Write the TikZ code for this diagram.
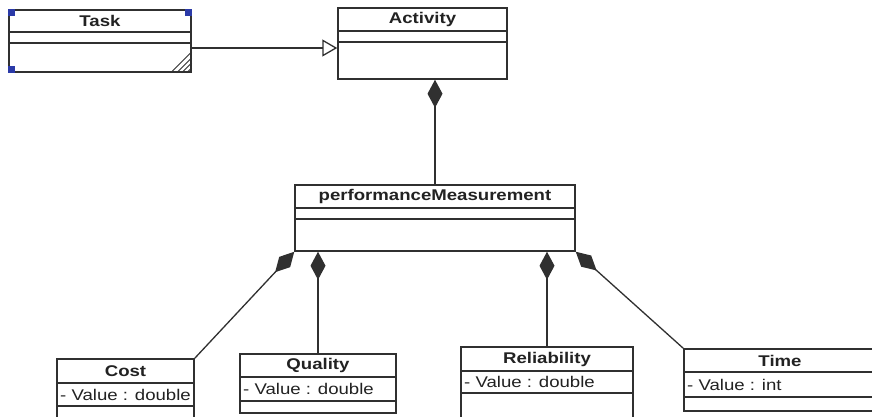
\documentclass[tikz,border=0pt]{standalone}
\usepackage{fontspec}
\setmainfont[FakeStretch=1.2]{Liberation Sans}
\usepackage{tikz}
\usetikzlibrary{arrows.meta,shapes,fit}
\definecolor{linecol}{HTML}{303030}
\definecolor{textcol}{HTML}{222222}
\definecolor{handlecol}{HTML}{2B3AA8}
\tikzstyle{class box}=[draw=linecol,line width=1.5pt,inner sep=0pt]
\tikzstyle{class title}=[text=textcol,inner sep=0pt,font=\fontsize{15.5}{18}\selectfont\bfseries]
\tikzstyle{attribute}=[text=textcol,anchor=west,inner xsep=3pt,inner ysep=0pt,font=\fontsize{15.5}{18}\selectfont]
\tikzstyle{divider}=[draw=linecol,line width=1.5pt]
\tikzstyle{handle}=[fill=handlecol,minimum size=6.5pt,inner sep=0pt]
\tikzstyle{grip}=[draw=linecol,line width=1pt]
\tikzstyle{composition}=[draw=linecol,line width=1.3pt,{Diamond[length=28pt,width=15pt]}-]
\tikzstyle{generalization}=[draw=linecol,line width=1.3pt,-{Triangle[open,length=15pt,width=17pt]}]

\begin{document}
\begin{tikzpicture}[x=1pt,y=-1pt]
    % Frame of the picture
    \useasboundingbox[fill=white] (0,0) rectangle (872,416);
    \clip (0,0) rectangle (872,416);

    % First we draw the classes
    \foreach \name/\lft/\tp/\rt/\bt/\da/\db/\heading/\attr in {
        task/9/10/191/72/32/43/Task/{},
        activity/338/8/507/79/31/42/Activity/{},
        pm/295/185/575/251/208/219/performanceMeasurement/{},
        cost/57/359/194/440/383/406/Cost/{- Value : double},
        quality/240/354/396/413/377/401/Quality/{- Value : double},
        reliability/461/347/633/440/371/393/Reliability/{- Value : double},
        time/684/349/876/411/372/397/Time/{- Value : int}}
    {
        \node[class box, fit={(\lft,\tp) (\rt,\bt)}] (\name) {};
        \node[class title] (\name-title) at ({(\lft+\rt)/2},{(\tp+\da)/2}) {\heading};
        \node[attribute] (\name-attr) at (\lft,{(\da+\db)/2}) {\attr};
        \path[divider] (\name.west |- 0,\da) -- (\name.east |- 0,\da);
        \path[divider] (\name.west |- 0,\db) -- (\name.east |- 0,\db);
    }

    % Selection handles and resize grip of Task
    \foreach \corner/\id in {north west/nw, north east/ne, south west/sw}
        \node[handle, anchor=\corner] (handle-\id) at (task.\corner) {};
    \foreach \s in {5,10,15,21}
        \path[grip] ([yshift=\s pt]task.south east) -- ([xshift=-\s pt]task.south east);

    % Connect classes with their links
    \path[generalization] ([yshift=-7pt]task.east) -- ([yshift=-7pt]task.east -| activity.west);
    \path[composition] (pm.north |- activity.south) -- (pm.north);
    \path[composition] (pm.south west) -- (cost.north east);
    \path[composition] (quality.north |- pm.south) -- (quality.north);
    \path[composition] (reliability.north |- pm.south) -- (reliability.north);
    \path[composition] (pm.south east) -- (time.north west);
\end{tikzpicture}
\end{document}
